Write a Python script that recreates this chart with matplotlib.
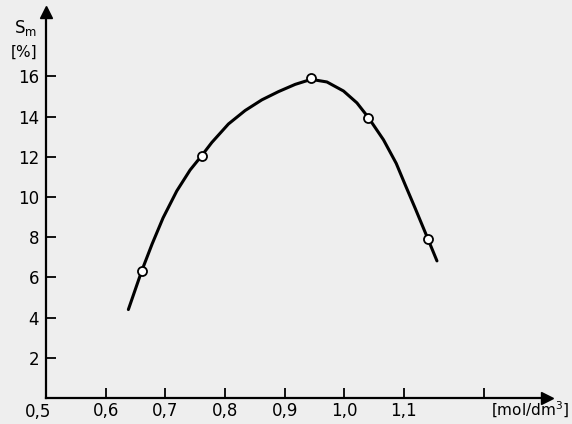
import matplotlib
matplotlib.use('Agg')
from matplotlib import pyplot as plt

# measured points (open circles)
conc = [0.6606, 0.7612, 0.9446, 1.0397, 1.1398]
s_m = [6.33, 12.06, 15.91, 13.95, 7.93]

# hand-drawn smooth curve
curve_x = [0.6381, 0.6606, 0.6779, 0.6963, 0.7193, 0.7416, 0.7612, 0.7780, 0.8059,
           0.8339, 0.8619, 0.8898, 0.9178, 0.9446, 0.9710, 0.9988, 1.0213, 1.0403,
           1.0659, 1.0872, 1.1023, 1.1191, 1.1331, 1.1398, 1.1555]
curve_y = [4.40, 6.33, 7.66, 8.96, 10.30, 11.34, 12.06, 12.71, 13.63,
           14.30, 14.83, 15.24, 15.60, 15.85, 15.72, 15.27, 14.68, 13.96,
           12.84, 11.67, 10.60, 9.43, 8.43, 7.95, 6.82]

x_ticks = [0.6, 0.7, 0.8, 0.9, 1.0, 1.1, 1.235]
x_labels = ['0,6', '0,7', '0,8', '0,9', '1,0', '1,1', '']
y_ticks = [2, 4, 6, 8, 10, 12, 14, 16]

paper = '#eeeeee'
fig = plt.figure(figsize=(5.72, 4.24), dpi=100, facecolor=paper)
ax = fig.add_axes([46 / 572, 26 / 424, 501 / 572, 386 / 424])
ax.set_facecolor(paper)

ax.plot(curve_x, curve_y, color='black', linewidth=2.2, solid_capstyle='round',
        solid_joinstyle='round', zorder=2)
ax.plot(conc, s_m, linestyle='none', marker='o', markersize=6.5,
        markerfacecolor='white', markeredgecolor='black', markeredgewidth=1.3, zorder=3)

ax.set_xlim(0.5, 1.34)
ax.set_ylim(0, 19.2)

for side in ['top', 'right']:
    ax.spines[side].set_visible(False)
for side in ['left', 'bottom']:
    ax.spines[side].set_linewidth(1.6)

# arrow heads at the ends of both axes
ax.plot(1, 0, marker='>', color='black', markersize=9, transform=ax.transAxes, clip_on=False)
ax.plot(0, 1, marker='^', color='black', markersize=9, transform=ax.transAxes, clip_on=False)

ax.set_xticks(x_ticks)
ax.set_xticklabels(x_labels)
ax.set_yticks(y_ticks)
ax.set_yticklabels([str(v) for v in y_ticks])
ax.tick_params(direction='in', length=7, width=1.3, labelsize=12, pad=5)
ax.tick_params(axis='x', pad=3)

ax.text(-0.016, -0.012, '0,5', transform=ax.transAxes, ha='center', va='top',
        fontsize=12, clip_on=False)
ax.text(1.045, -0.005, '[mol/dm$^3$]', transform=ax.transAxes, ha='right', va='top',
        fontsize=11, clip_on=False)
ax.text(-0.018, 0.958, 'S$_\\mathrm{m}$', transform=ax.transAxes, ha='right', va='center', fontsize=12)
ax.text(-0.018, 0.896, '[%]', transform=ax.transAxes, ha='right', va='center', fontsize=11)

fig.savefig('out.png', dpi=100, facecolor=paper)
